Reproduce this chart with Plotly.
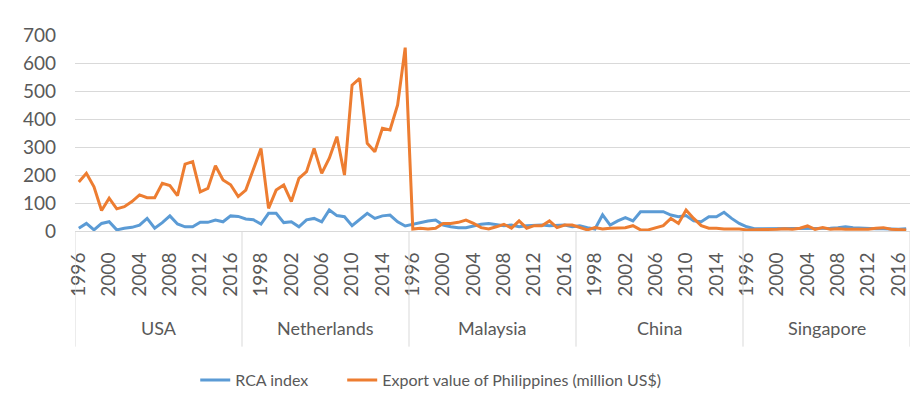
import plotly.graph_objects as go

countries = ["USA", "Netherlands", "Malaysia", "China", "Singapore"]
years = list(range(1996, 2018))

rca_usa = [10, 27, 4, 27, 33, 4, 10, 13, 21, 45, 10, 30, 54, 25, 15, 15, 31, 31, 39, 33, 54, 52]
rca_neth = [43, 40, 25, 63, 63, 30, 33, 15, 40, 45, 33, 75, 55, 51, 19, 40, 63, 45, 54, 57, 33, 18]
rca_malaysia = [24, 31, 36, 39, 21, 15, 12, 12, 19, 24, 27, 24, 19, 21, 15, 19, 21, 21, 19, 21, 21, 15]
rca_china = [19, 12, 7, 58, 21, 36, 48, 36, 69, 69, 69, 69, 57, 51, 55, 36, 33, 51, 51, 67, 45, 27]
rca_singapore = [15, 8, 8, 8, 8, 8, 8, 8, 10, 8, 8, 10, 12, 15, 12, 10, 8, 8, 8, 6, 6, 8]

exp_usa = [175, 206, 158, 73, 117, 79, 87, 105, 129, 119, 119, 170, 162, 126, 239, 248, 140, 152, 233, 182, 165, 123]
exp_neth = [146, 218, 295, 81, 146, 164, 105, 188, 212, 295, 206, 260, 337, 200, 521, 545, 313, 283, 367, 361, 450, 655]
exp_malaysia = [7, 10, 7, 10, 27, 27, 31, 39, 27, 12, 7, 15, 24, 10, 36, 10, 19, 19, 36, 12, 21, 21]
exp_china = [12, 4, 12, 7, 10, 12, 12, 19, 4, 4, 12, 19, 45, 27, 75, 45, 19, 10, 10, 7, 7, 7]
exp_singapore = [4, 4, 4, 4, 6, 8, 6, 10, 18, 6, 12, 6, 8, 6, 6, 6, 6, 10, 12, 6, 4, 4]

rca = rca_usa + rca_neth + rca_malaysia + rca_china + rca_singapore
exp = exp_usa + exp_neth + exp_malaysia + exp_china + exp_singapore

cat_years = [y for c in countries for y in years]
n = len(cat_years)
xs = list(range(n))
tick_idx = list(range(0, n, 4))
tick_txt = [str(cat_years[i]) for i in tick_idx]

FONT = "Lato"
TXT = "#595959"
GRID = "#d9d9d9"

fig = go.Figure()
fig.add_trace(go.Scatter(x=xs, y=rca, mode="lines", name="RCA index",
                         line=dict(color="#5B9BD5", width=3), legend="legend"))
fig.add_trace(go.Scatter(x=xs, y=exp, mode="lines",
                         name="Export value of Philippines (million US$)",
                         line=dict(color="#ED7D31", width=3), legend="legend2"))

g = len(years)
shapes = []
for k in range(len(countries) + 1):
    xb = k * g - 0.5
    shapes.append(dict(type="line", xref="x", yref="paper", x0=xb, x1=xb,
                       y0=0, y1=-0.59, line=dict(color=GRID, width=1)))
annotations = []
for k, c in enumerate(countries):
    annotations.append(dict(x=k * g + (g - 1) / 2, y=-0.495, xref="x", yref="paper",
                            text=c, showarrow=False, yanchor="middle",
                            font=dict(family=FONT, size=18, color=TXT)))

legend_common = dict(orientation="h", xanchor="left", yref="container",
                     y=0.086, yanchor="middle",
                     font=dict(family=FONT, size=16, color=TXT),
                     bgcolor="rgba(0,0,0,0)")

fig.update_layout(
    width=914, height=407,
    margin=dict(l=67, r=12, t=27, b=184, autoexpand=False),
    paper_bgcolor="white", plot_bgcolor="white",
    font=dict(family=FONT, size=17, color=TXT),
    xaxis=dict(range=[-0.5, n - 0.5], showgrid=False, zeroline=False, showline=False,
               tickmode="array", tickvals=tick_idx, ticktext=tick_txt, tickangle=-90,
               ticks="outside", ticklen=13, tickcolor="rgba(0,0,0,0)", automargin=False,
               tickfont=dict(family=FONT, size=19, color=TXT)),
    yaxis=dict(range=[0, 700], dtick=100, showgrid=True, gridcolor=GRID, gridwidth=1,
               zeroline=True, zerolinecolor=GRID, zerolinewidth=1, showline=False,
               ticks="", ticklabelstandoff=18, automargin=False,
               tickfont=dict(family=FONT, size=19, color=TXT)),
    legend=dict(x=0.144, **legend_common),
    legend2=dict(x=0.320, **legend_common),
    shapes=shapes, annotations=annotations,
    showlegend=True,
)

fig.write_html("out.html")
